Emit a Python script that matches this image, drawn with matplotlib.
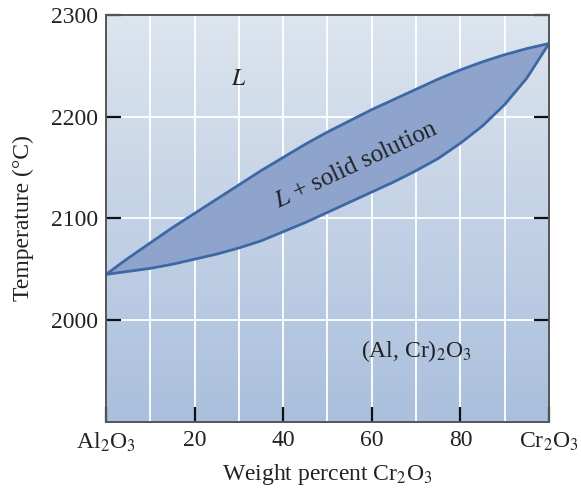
import numpy as np
import matplotlib
matplotlib.use("Agg")
import matplotlib.pyplot as plt

plt.rcParams['font.family'] = ['Liberation Serif', 'DejaVu Serif']
plt.rcParams['mathtext.fontset'] = 'stix'

# composition (wt% Cr2O3) and phase boundaries (deg C)
comp = [0, 5, 10, 15, 20, 25, 30, 35, 40, 45, 50,
        55, 60, 65, 70, 75, 80, 85, 90, 95, 100]
liquidus = [2045, 2061, 2076, 2091, 2105, 2119, 2133, 2147, 2160, 2173, 2185,
            2196, 2207, 2217, 2227, 2237, 2246, 2254, 2261, 2267, 2272]
solidus = [2045, 2048, 2051, 2055, 2060, 2065, 2071, 2078, 2087, 2096, 2106,
           2116, 2126, 2136, 2147, 2159, 2174, 2191, 2212, 2238, 2272]

xtick_pos = [0, 20, 40, 60, 80, 100]
xtick_labels = [r'Al$_2$O$_3$', '20', '40', '60', '80', r'Cr$_2$O$_3$']
ytick_pos = [2000, 2100, 2200, 2300]

fig = plt.figure(figsize=(5.81, 4.90), dpi=100)
ax = fig.add_axes([0.1824, 0.1388, 0.7625, 0.8306])

# background gradient, light at top, bluer at bottom
grad = np.linspace(0, 1, 256).reshape(-1, 1)
cmap = matplotlib.colors.LinearSegmentedColormap.from_list('bg', ['#aabfdd', '#dde5ee'])
ax.imshow(grad, cmap=cmap, origin='lower', extent=[0, 100, 1900, 2300],
          aspect='auto', zorder=0)

ax.set_xlim(0, 100)
ax.set_ylim(1900, 2300)

# grid
ax.set_xticks(xtick_pos)
ax.set_xticklabels(xtick_labels)
ax.set_xticks(np.arange(10, 100, 10), minor=True)
ax.set_yticks(ytick_pos)
ax.grid(True, which='both', axis='x', color='white', lw=1.3, zorder=1)
ax.grid(True, which='major', axis='y', color='white', lw=1.3, zorder=1)

# two-phase region
ax.fill_between(comp, solidus, liquidus, color='#8fa4cc', zorder=2, lw=0)
ax.plot(comp, liquidus, color='#3c68a6', lw=2, zorder=3, solid_joinstyle='round')
ax.plot(comp, solidus, color='#3c68a6', lw=2, zorder=3, solid_joinstyle='round')

ax.text(30, 2237, r'$L$', fontsize=17, ha='center', va='center', color='#222222')
ax.text(56.5, 2152, r'$L$ + solid solution', fontsize=18, rotation=25,
        ha='center', va='center', color='#222222', rotation_mode='anchor')
ax.text(70, 1970, r'(Al, Cr)$_2$O$_3$', fontsize=17, ha='center', va='center',
        color='#222222')

ax.set_xlabel(r'Weight percent Cr$_2$O$_3$', fontsize=17, color='#222222', labelpad=6)
ax.set_ylabel('Temperature (°C)', fontsize=17, color='#222222', labelpad=12)

ax.tick_params(axis='both', which='major', direction='in', length=11, width=1.6,
               color='#111111', labelsize=17, labelcolor='#222222', pad=6)
ax.tick_params(axis='y', right=True)
ax.tick_params(axis='x', which='minor', length=0)

for s in ax.spines.values():
    s.set_color('#555555')
    s.set_linewidth(1.4)
    s.set_zorder(4)

fig.savefig('out.png', dpi=100)
